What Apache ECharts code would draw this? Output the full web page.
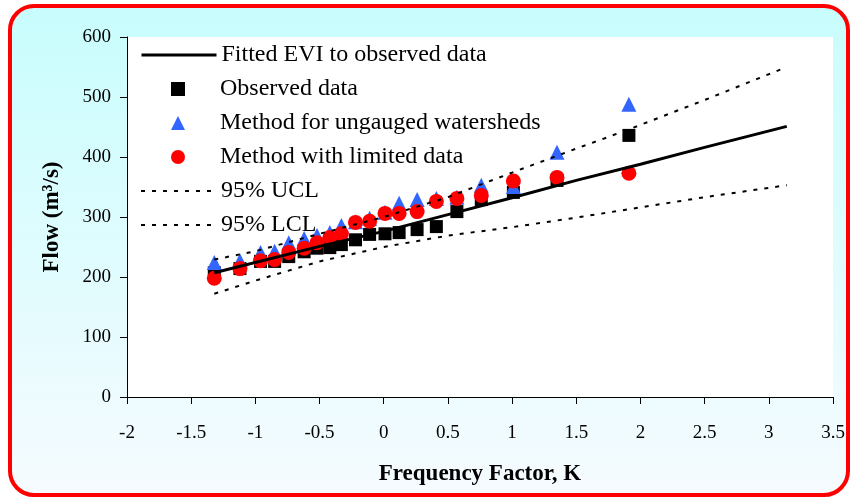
<!DOCTYPE html>
<html>
<head>
<meta charset="utf-8">
<script src="https://cdn.jsdelivr.net/npm/echarts@6/dist/echarts.min.js"></script>
<style>
  html, body { margin: 0; padding: 0; background: #fff; }
  #chart { width: 854px; height: 501px; }
</style>
</head>
<body>
<div id="chart"></div>
<script>
// frequency factor K of each plotted year
const kPoints = [-1.32, -1.12, -0.96, -0.85, -0.74, -0.62, -0.52, -0.42, -0.33, -0.22,
                 -0.11, 0.01, 0.12, 0.26, 0.41, 0.57, 0.76, 1.01, 1.35, 1.91];
const observed = [207, 214, 226, 226, 234, 242, 248, 249, 254, 262,
                  271, 272, 274, 279, 284, 309, 329, 341, 361, 436];
const ungauged = [224, 227, 241, 243, 257, 264, 269, 274, 286, 292,
                  298, 308, 323, 329, 331, 333, 353, 351, 408, 488];
const limited = [198, 214, 227, 229, 241, 248, 257, 266, 272, 291,
                 293, 306, 306, 309, 326, 331, 336, 360, 366, 373];

// fitted EVI and confidence limits
const fitK = [-1.32, -0.5, 0, 0.5, 1, 1.5, 2, 2.5, 3.14];
const fitted = [207, 251, 276, 304, 332, 361, 388, 416, 451];
const limK = [-1.32, -1.0, -0.5, 0, 0.5, 1, 1.5, 1.91, 2.5, 3.14];
const ucl = [229, 243, 272, 300, 333, 374, 414, 446, 495, 550];
const lcl = [172, 194, 226, 250, 269, 283, 299, 313, 333, 353];

const names = ['Fitted EVI to observed data', 'Observed data', 'Method for ungauged watersheds',
               'Method with limited data', '95% UCL', '95% LCL'];

const serif = '"Liberation Serif", "Times New Roman", serif';
const legendTop = 38;
const rowH = 34;

function pairs(xs, ys) {
  return xs.map((x, i) => [x, ys[i]]);
}

// line entries: hide the marker ECharts puts in the middle of the sample
function lineItem(name) {
  return { name: name, itemStyle: { opacity: 0 } };
}

const legendText = { fontFamily: serif, fontSize: 24, color: '#000' };

const chart = echarts.init(document.getElementById('chart'), null, { renderer: 'canvas' });

chart.setOption({
  animation: false,
  textStyle: { fontFamily: serif, color: '#000' },
  graphic: {
    elements: [{
      type: 'rect',
      silent: true,
      z: -100,
      shape: { x: 10, y: 6, width: 838, height: 489, r: 24 },
      style: {
        fill: new echarts.graphic.LinearGradient(0, 0, 0, 1, [
          { offset: 0, color: '#c8fdfd' },
          { offset: 1, color: '#f6fbff' }
        ]),
        stroke: '#ff0000',
        lineWidth: 4
      }
    }]
  },
  grid: {
    left: 127,
    right: 21,
    top: 37,
    bottom: 104,
    show: true,
    backgroundColor: '#ffffff',
    borderWidth: 0
  },
  legend: [
    {
      orient: 'vertical',
      left: 135,
      top: legendTop,
      itemWidth: 75,
      itemHeight: 14,
      itemTextGap: 5,
      lineStyle: { width: 3 },
      textStyle: legendText,
      data: [lineItem(names[0])]
    },
    {
      orient: 'vertical',
      left: 166,
      top: legendTop + rowH,
      itemWidth: 14,
      itemHeight: 14,
      itemGap: 10,
      itemTextGap: 5,
      textStyle: Object.assign({ padding: [0, 0, 0, 30] }, legendText),
      data: [names[1], names[2], names[3]]
    },
    {
      orient: 'vertical',
      left: 135,
      top: legendTop + rowH * 4,
      itemWidth: 75,
      itemHeight: 14,
      itemGap: 10,
      itemTextGap: 5,
      textStyle: legendText,
      data: [lineItem(names[4]), lineItem(names[5])]
    }
  ],
  xAxis: {
    type: 'value',
    min: -2,
    max: 3.5,
    interval: 0.5,
    name: 'Frequency Factor, K',
    nameLocation: 'middle',
    nameGap: 66,
    nameTextStyle: { fontFamily: serif, fontSize: 23, fontWeight: 'bold', color: '#000' },
    axisLine: { onZero: false, lineStyle: { color: '#000', width: 1 } },
    axisTick: { length: 7, lineStyle: { color: '#000' } },
    axisLabel: { margin: 27, fontSize: 19, color: '#000', fontFamily: serif },
    splitLine: { show: false }
  },
  yAxis: {
    type: 'value',
    min: 0,
    max: 600,
    interval: 100,
    name: 'Flow (m³/s)',
    nameLocation: 'middle',
    nameGap: 63,
    nameTextStyle: { fontFamily: serif, fontSize: 23, fontWeight: 'bold', color: '#000' },
    axisLine: { show: true, onZero: false, lineStyle: { color: '#000', width: 1 } },
    axisTick: { show: true, length: 7, lineStyle: { color: '#000' } },
    axisLabel: { margin: 16, fontSize: 19, color: '#000', fontFamily: serif },
    splitLine: { show: false }
  },
  series: [
    {
      name: names[0],
      type: 'line',
      data: pairs(fitK, fitted),
      symbol: 'none',
      lineStyle: { color: '#000', width: 3 },
      itemStyle: { color: '#000' }
    },
    {
      name: names[1],
      type: 'scatter',
      data: pairs(kPoints, observed),
      symbol: 'rect',
      symbolSize: 13,
      itemStyle: { color: '#000', opacity: 1 }
    },
    {
      name: names[2],
      type: 'scatter',
      data: pairs(kPoints, ungauged),
      symbol: 'triangle',
      symbolSize: 15,
      itemStyle: { color: '#3366ff', opacity: 1 }
    },
    {
      name: names[3],
      type: 'scatter',
      data: pairs(kPoints, limited),
      symbol: 'circle',
      symbolSize: 15,
      itemStyle: { color: '#ff0000', opacity: 1 }
    },
    {
      name: names[4],
      type: 'line',
      data: pairs(limK, ucl),
      symbol: 'none',
      lineStyle: { color: '#000', width: 2, type: [4, 7] },
      itemStyle: { color: '#000' }
    },
    {
      name: names[5],
      type: 'line',
      data: pairs(limK, lcl),
      symbol: 'none',
      lineStyle: { color: '#000', width: 2, type: [4, 7] },
      itemStyle: { color: '#000' }
    }
  ]
});
</script>
</body>
</html>
